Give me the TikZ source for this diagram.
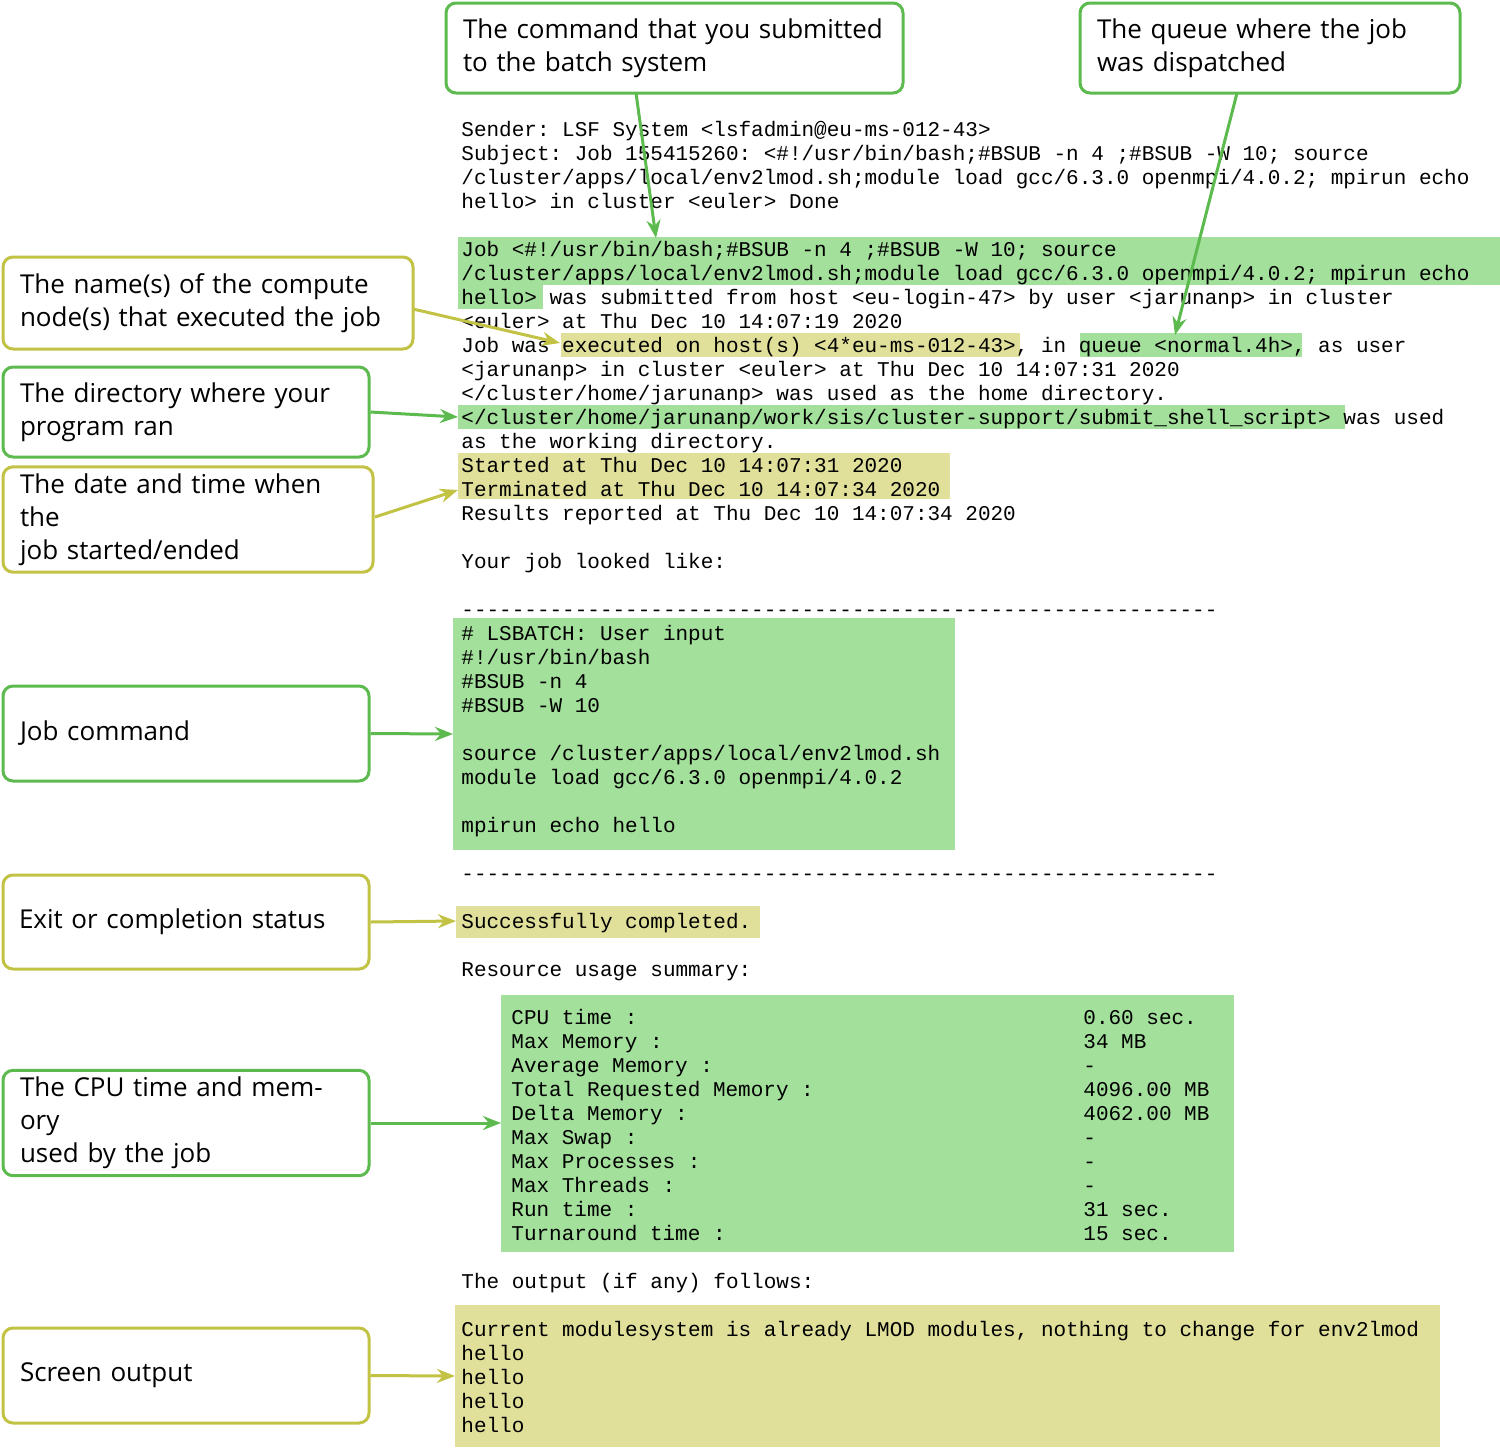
\documentclass[tikz,border=0pt]{standalone}
\usepackage{fontspec}
\setmainfont{Open Sans}
\setmonofont{Liberation Mono}
\usetikzlibrary{arrows.meta}
\definecolor{gfill}{HTML}{A3E09B}
\definecolor{yfill}{HTML}{E0E09B}
\definecolor{gline}{HTML}{5CBA4E}
\definecolor{yline}{HTML}{C2C244}
\begin{document}
\begin{tikzpicture}[x=0.5pt,y=-0.5pt,
  m/.style={anchor=base west,inner sep=0pt,font=\ttfamily\fontsize{10.5}{12}\selectfont},
  cbox/.style={draw=#1,line width=1.5pt,rounded corners=5pt,fill=white,align=left,inner xsep=8.5pt,font=\fontsize{13}{16.5}\selectfont},
  arr/.style={draw=#1,line width=1.5pt,-{Stealth[length=9pt,width=7pt]}}]
\useasboundingbox (0,0) rectangle (1500,1447);
% highlights
\fill[gfill] (458,237) rectangle (1500,285);
\fill[gfill] (458,285) rectangle (543,309);
\fill[yfill] (561,333) rectangle (1020,357);
\fill[gfill] (1080,333) rectangle (1302,357);
\fill[gfill] (458,405) rectangle (1345,429);
\fill[yfill] (458,453) rectangle (950,499);
\fill[gfill] (453,618) rectangle (955,850);
\fill[yfill] (456,906) rectangle (760,938);
\fill[gfill] (501,995) rectangle (1234,1252);
\fill[yfill] (455,1305) rectangle (1440,1447);
% text
\node[m] (t1) at (461,136) {Sender: LSF System <lsfadmin@eu-ms-012-43>};
\node[m] (t2) at (461,160) {Subject: Job 155415260: <\#!/usr/bin/bash;\#BSUB -n 4 ;\#BSUB -W 10; source};
\node[m] (t3) at (461,184) {/cluster/apps/local/env2lmod.sh;module load gcc/6.3.0 openmpi/4.0.2; mpirun echo};
\node[m] (t4) at (461,208) {hello> in cluster <euler> Done};
\node[m] (t5) at (461,256) {Job <\#!/usr/bin/bash;\#BSUB -n 4 ;\#BSUB -W 10; source};
\node[m] (t6) at (461,280) {/cluster/apps/local/env2lmod.sh;module load gcc/6.3.0 openmpi/4.0.2; mpirun echo};
\node[m] (t7) at (461,304) {hello> was submitted from host <eu-login-47> by user <jarunanp> in cluster};
\node[m] (t8) at (461,328) {<euler> at Thu Dec 10 14:07:19 2020};
\node[m] (t9) at (461,352) {Job was executed on host(s) <4*eu-ms-012-43>, in queue <normal.4h>, as user};
\node[m] (t10) at (461,376) {<jarunanp> in cluster <euler> at Thu Dec 10 14:07:31 2020};
\node[m] (t11) at (461,400) {</cluster/home/jarunanp> was used as the home directory.};
\node[m] (t12) at (461,424) {</cluster/home/jarunanp/work/sis/cluster-support/submit\_shell\_script> was used};
\node[m] (t13) at (461,448) {as the working directory.};
\node[m] (t14) at (461,472) {Started at Thu Dec 10 14:07:31 2020};
\node[m] (t15) at (461,496) {Terminated at Thu Dec 10 14:07:34 2020};
\node[m] (t16) at (461,520) {Results reported at Thu Dec 10 14:07:34 2020};
\node[m] (t17) at (461,568) {Your job looked like:};
\node[m] (t18) at (461,616) {------------------------------------------------------------};
\node[m] (t19) at (461,640) {\# LSBATCH: User input};
\node[m] (t20) at (461,664) {\#!/usr/bin/bash};
\node[m] (t21) at (461,688) {\#BSUB -n 4};
\node[m] (t22) at (461,712) {\#BSUB -W 10};
\node[m] (t23) at (461,760) {source /cluster/apps/local/env2lmod.sh};
\node[m] (t24) at (461,784) {module load gcc/6.3.0 openmpi/4.0.2};
\node[m] (t25) at (461,832) {mpirun echo hello};
\node[m] (t26) at (461,880) {------------------------------------------------------------};
\node[m] (t27) at (461,928) {Successfully completed.};
\node[m] (t28) at (461,976) {Resource usage summary:};
\foreach \i/\a/\b in {0/CPU time :/0.60 sec.,1/Max Memory :/34 MB,2/Average Memory :/-,3/Total Requested Memory :/4096.00 MB,4/Delta Memory :/4062.00 MB,5/Max Swap :/-,6/Max Processes :/-,7/Max Threads :/-,8/Run time :/31 sec.,9/Turnaround time :/15 sec.}{
  \node[m] (ra\i) at (511,1024+24*\i) {\a};
  \node[m] (rb\i) at (1083,1024+24*\i) {\b};
}
\node[m] (t29) at (461,1288) {The output (if any) follows:};
\node[m] (t30) at (461,1336) {Current modulesystem is already LMOD modules, nothing to change for env2lmod};
\foreach \i in {0,1,2,3}{\node[m] (h\i) at (461,1360+24*\i) {hello};}
% callouts
\node[cbox=gline,minimum width=228.5pt,minimum height=45pt,text width=211.5pt] (c1) at (674.5,48) {The command that you submitted\\to the batch system};
\node[cbox=gline,minimum width=190pt,minimum height=45pt,text width=173pt] (c2) at (1270,48) {The queue where the job\\was dispatched};
\node[cbox=yline,minimum width=205pt,minimum height=46pt,text width=188pt] (c3) at (208,303) {The name(s) of the compute\\node(s) that executed the job};
\node[cbox=gline,minimum width=183pt,minimum height=45pt,text width=166pt] (c4) at (186,412) {The directory where your\\program ran};
\node[cbox=yline,minimum width=185pt,minimum height=45.5pt,text width=168pt] (c5) at (188,519.5) {The date and time when the\\job started/ended};
\node[cbox=gline,minimum width=183pt,minimum height=47.5pt,text width=166pt] (c6) at (186,733.5) {Job command};
\node[cbox=yline,minimum width=183pt,minimum height=47pt,text width=167pt,inner xsep=8pt] (c7) at (186,922) {Exit or completion status};
\node[cbox=gline,minimum width=183pt,minimum height=47pt,text width=166pt] (c8) at (186,1123) {The CPU time and memory\\used by the job};
\node[cbox=yline,minimum width=183pt,minimum height=47.5pt,text width=166pt] (c9) at (186,1375.5) {Screen output};
% target coordinates
\coordinate (a1) at (656,238);
\coordinate (a2) at (1175,335);
\coordinate (a3) at (560,343);
\coordinate (a4) at (458,417);
\coordinate (a5) at (458,490);
\coordinate (a6) at (453,734);
\coordinate (a7) at (456,921);
\coordinate (a8) at (501,1123);
\coordinate (a9) at (455,1376);
\coordinate (s1) at (636,93);
\coordinate (s2) at (1237,93);
\coordinate (s3) at (413,309);
\coordinate (s5) at (375,517);
\draw[arr=gline] (s1) -- (a1);
\draw[arr=gline] (s2) -- (a2);
\draw[arr=yline] (s3) -- (a3);
\draw[arr=gline] (c4.east) -- (a4);
\draw[arr=yline] (s5) -- (a5);
\draw[arr=gline] (c6.east) -- (a6);
\draw[arr=yline] (c7.east) -- (a7);
\draw[arr=gline] (c8.east) -- (a8);
\draw[arr=yline] (c9.east) -- (a9);
\end{tikzpicture}
\end{document}
